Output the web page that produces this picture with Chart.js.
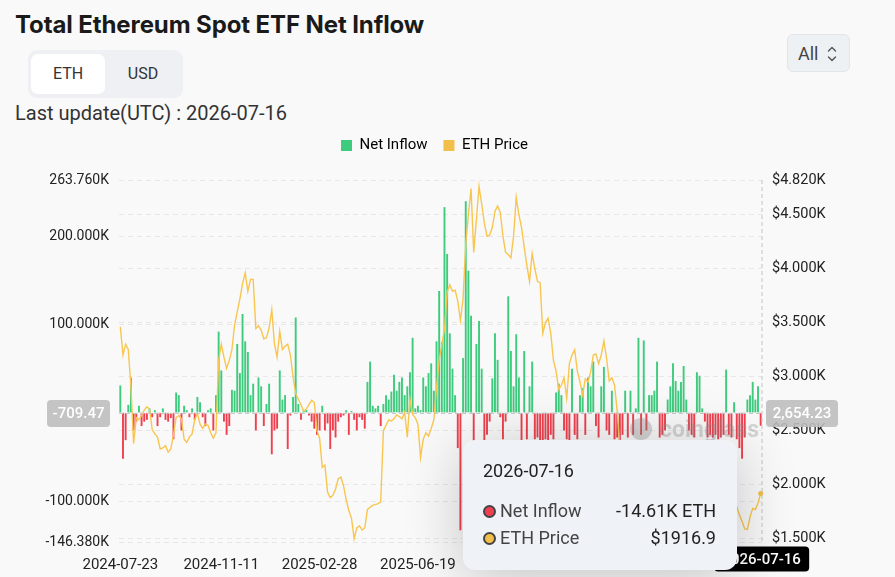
<!DOCTYPE html>
<html>
<head>
<meta charset="utf-8">
<script src="https://cdn.jsdelivr.net/npm/chart.js@4.4.1/dist/chart.umd.min.js"></script>
<style>
  body { margin: 0; background: #f9f9f9; font-family: Roboto, "Noto Sans", sans-serif; color: #222; }
  #wrap { position: relative; width: 895px; height: 577px; overflow: hidden; }
  h1 { position: absolute; left: 15px; top: 10px; margin: 0; font: 700 24px Inter, Roboto, sans-serif; letter-spacing: -0.1px; color: #1a1a1a; }
  .toggle { position: absolute; left: 28px; top: 50px; width: 155px; height: 48px; background: #eef0f3; border-radius: 9px; }
  .toggle span { position: absolute; top: 4px; height: 40px; line-height: 40px; text-align: center; font-size: 16px; color: #333; }
  .toggle .on { left: 3px; width: 74px; background: #fff; border-radius: 7px; }
  .toggle .off { left: 77px; width: 76px; }
  .upd { position: absolute; left: 15px; top: 101px; font-size: 20px; color: #333; }
  .sel { position: absolute; left: 787px; top: 34px; width: 63px; height: 38px; background: #eef1f4; border: 1px solid #e2e5e9; border-radius: 6px; box-sizing: border-box; font-size: 18px; color: #444; }
  .sel b { position: absolute; left: 10px; top: 8px; font-weight: 400; }
  .sel svg { position: absolute; left: 39px; top: 10px; }
  canvas { position: absolute; left: 0; top: 122px; }
  .wm { position: absolute; left: 630px; top: 416px; font: 700 23px Roboto, sans-serif; color: rgba(140,140,140,0.35); }
  .wm em { display: inline-block; width: 22px; height: 22px; border-radius: 50%; background: rgba(140,140,140,0.35); vertical-align: -3px; margin-right: 8px; }
  #tip { position: absolute; left: 463px; top: 440px; width: 274px; height: 130px; background: #eff2f6; border-radius: 12px; box-shadow: 0 8px 60px rgba(0,0,0,0.22); }
  #tip .d { position: absolute; left: 20px; top: 20px; font-size: 18px; color: #222; }
  #tip .r { position: absolute; left: 20px; right: 21px; font-size: 18px; height: 24px; line-height: 24px; }
  #tip .r .dot { position: absolute; left: 0; top: 6px; width: 9px; height: 9px; border-radius: 50%; border: 2px solid #444; }
  #tip .r .l { position: absolute; left: 17px; color: #444; }
  #tip .r .v { position: absolute; right: 0; color: #222; }
</style>
</head>
<body>
<div id="wrap">
  <h1>Total Ethereum Spot ETF Net Inflow</h1>
  <div class="toggle"><span class="on">ETH</span><span class="off">USD</span></div>
  <div class="upd">Last update(UTC) : 2026-07-16</div>
  <div class="sel"><b>All</b>
    <svg width="10" height="18" viewBox="0 0 10 18"><path d="M1.5 6 L5 2.5 L8.5 6 M1.5 12 L5 15.5 L8.5 12" fill="none" stroke="#555" stroke-width="1.4" stroke-linecap="round" stroke-linejoin="round"/></svg>
  </div>
  <canvas id="chart" width="895" height="455"></canvas>
  <div class="wm"><em></em>coinglass</div>
  <div id="tip">
    <div class="d" id="tipDate"></div>
    <div class="r" style="top:59px"><span class="dot" style="background:#f0404f"></span><span class="l">Net Inflow</span><span class="v" id="tipFlow"></span></div>
    <div class="r" style="top:86px"><span class="dot" style="background:#f2bf4a"></span><span class="l">ETH Price</span><span class="v" id="tipPrice"></span></div>
  </div>
</div>
<script>
const startDate = "2024-07-23";
const stepDays = 3;
// x labels and the bar each one sits under
const tickLabels = ["2024-07-23", "2024-11-11", "2025-02-28", "2025-06-19", "2025-10-08", "2026-01-27", "2026-05-18"];
const tickIndex = [0, 38, 75, 112, 150, 188, 225];
const leftTicks = [-146.38, -100, 0, 100, 200, 263.76];
const rightTicks = [1469, 1500, 2000, 2500, 3000, 3500, 4000, 4500, 4820];

// net inflow, thousand ETH
const netInflowK = [
  31, -52, -31, 9, 40, -20, -10, 8, -15, -10, -8, 5, -5, 3, -15, -5, 5, -8, -10, -6,
  -30, 23, 20, -20, 8, 3, -5, 5, -8, 18, 12, -5, -15, 3, 5, -20, 20, 92, 48, -10,
  -25, -15, 26, 25, 78, 45, 112, 81, 69, 20, 33, -20, 40, 30, -15, 10, 33, -47, -20, -18,
  48, 15, 20, -41, -3, 18, 108, 10, -8, 3, 3, -3, -10, -18, -25, -20, 8, -20, -12, -41,
  -20, -28, -10, -5, -3, 3, -25, 2, -8, -20, -5, -8, -18, 35, 58, 8, 5, 8, -15, 10,
  20, 15, 24, 43, 25, 35, 40, 20, 30, 46, 85, 5, 8, 3, 40, 30, 45, 56, 25, 81,
  138, 80, 233, 180, 90, 50, 20, -40, -133.07, 62, 239.78, 161, 110, -45, 78, 104, 50, -35, -25, -10,
  39, 90, 60, -5, -30, -10, 132, 70, 30, 89, 40, -40, 70, -30, 30, 58, -30, -28, -35, -40,
  -30, -45, -25, -30, 23, 33, 20, -20, -30, -35, 50, -25, -30, 20, 28, -25, 40, 30, 58, -15,
  -28, 30, 52, -20, -25, 25, -30, -28, -146.38, -25, 25, -28, 25, -25, 5, 85, -25, 82, -20, 20,
  20, 25, 58, -28, -25, -20, 15, 30, 56, 36, 25, 35, 53, 15, -20, -25, -28, 46, 42, 5,
  -10, -28, -25, -28, -25, -30, -28, -25, 49, -25, -28, 12, -30, -40, -52, -28, 15, 20, 35, 15,
  30, -14.61
];

// ETH price, USD
const ethPrice = [
  3460, 3200, 3300, 3250, 2900, 2380, 2620, 2600, 2640, 2690, 2720, 2700, 2510, 2470, 2440, 2330, 2340, 2360, 2300, 2330,
  2460, 2620, 2640, 2610, 2420, 2390, 2440, 2470, 2600, 2660, 2560, 2520, 2560, 2550, 2480, 2430, 2480, 3150, 3300, 3180,
  3075, 3150, 3250, 3480, 3600, 3720, 3860, 3960, 3790, 3900, 3900, 3445, 3470, 3430, 3350, 3360, 3450, 3620, 3300, 3180,
  3420, 3250, 3280, 3300, 3200, 3000, 2840, 2790, 2740, 2680, 2700, 2740, 2780, 2760, 2500, 2430, 2160, 2180, 1930, 1880,
  1900, 1960, 2056, 2070, 1990, 1860, 1760, 1690, 1500, 1600, 1620, 1580, 1600, 1770, 1790, 1810, 1815, 1825, 1840, 2500,
  2550, 2600, 2590, 2610, 2645, 2630, 2610, 2670, 2440, 2790, 2650, 2620, 2560, 2250, 2420, 2480, 2450, 2520, 2600, 2900,
  3150, 3300, 3440, 3780, 3850, 3790, 3800, 3700, 3520, 3720, 4230, 4500, 4740, 4150, 4450, 4760, 4600, 4420, 4300, 4310,
  4380, 4530, 4580, 4520, 4300, 4150, 4130, 4100, 4300, 4660, 4500, 4380, 4200, 4030, 3880, 4140, 4000, 3880, 3870, 3400,
  3500, 3540, 3400, 3150, 3050, 2880, 2920, 2990, 2800, 3120, 3200, 3250, 3050, 2950, 2830, 2980, 2950, 3040, 3200, 3210,
  3120, 3200, 3330, 3170, 2960, 2990, 2920, 2680, 2350, 2250, 2300, 2200, 2150, 2250, 2200, 2100, 2000, 2050, 2150, 2100,
  2000, 1950, 2050, 2100, 2000, 1900, 1950, 2000, 1900, 1850, 1950, 2050, 2000, 1900, 1850, 1800, 1900, 1950, 2000, 1950,
  1850, 1800, 1750, 1850, 1900, 1850, 1800, 1820, 1800, 1850, 1820, 1780, 1794, 1720, 1660, 1590, 1585, 1700, 1780, 1770,
  1830, 1916.9
];

const dates = [];
const d0 = new Date(startDate + "T00:00:00Z");
for (let i = 0; i < netInflowK.length; i++) {
  const d = new Date(d0.getTime() + i * stepDays * 86400000);
  dates.push(d.toISOString().slice(0, 10));
}
const last = dates.length - 1;

const barColors = netInflowK.map(v => v >= 0 ? "#3ecb7d" : "#f0404f");

document.getElementById("tipDate").textContent = dates[last];
document.getElementById("tipFlow").textContent = netInflowK[last].toFixed(2) + "K ETH";
document.getElementById("tipPrice").textContent = "$" + ethPrice[last];

const legendSpace = {
  id: "legendSpace",
  beforeInit(chart) {
    const fit = chart.legend.fit;
    chart.legend.fit = function () {
      fit.bind(chart.legend)();
      this.height += 17;
    };
  }
};

// crosshair at the last point, like the hovered page
const crosshair = {
  id: "crosshair",
  afterDraw(chart) {
    const { ctx, chartArea, scales } = chart;
    const x = scales.x.getPixelForValue(last);
    const y = scales.y.getPixelForValue(-0.70947);
    ctx.save();
    ctx.strokeStyle = "#c4c4c4";
    ctx.lineWidth = 1;
    ctx.setLineDash([4, 3]);
    ctx.beginPath();
    ctx.moveTo(chartArea.right, chartArea.top);
    ctx.lineTo(chartArea.right, chartArea.bottom);
    ctx.moveTo(chartArea.left, y);
    ctx.lineTo(chartArea.right, y);
    ctx.stroke();
    ctx.setLineDash([]);

    function tag(text, cx, cy, w, h, bg) {
      ctx.fillStyle = bg;
      ctx.beginPath();
      ctx.roundRect(cx - w / 2, cy - h / 2, w, h, 4);
      ctx.fill();
      ctx.fillStyle = "#fff";
      ctx.textAlign = "center";
      ctx.textBaseline = "middle";
      ctx.fillText(text, cx, cy + 1);
    }
    ctx.font = "500 15px Roboto";
    tag("-709.47", 78.5, y, 63, 27, "rgba(190,190,190,0.9)");
    tag("2,654.23", 802, y, 72, 27, "rgba(190,190,190,0.9)");
    tag(dates[last], x + 1, chartArea.bottom + 17, 95, 25, "#000");
    ctx.restore();
  }
};

const gridStyle = { color: "#e7e7e7", drawTicks: false };

new Chart(document.getElementById("chart"), {
  data: {
    labels: dates,
    datasets: [
      {
        type: "bar",
        label: "Net Inflow",
        data: netInflowK,
        yAxisID: "y",
        backgroundColor: barColors,
        barPercentage: 0.72,
        categoryPercentage: 1,
        order: 2
      },
      {
        type: "line",
        label: "ETH Price",
        data: ethPrice,
        yAxisID: "y1",
        borderColor: "#f8c650",
        backgroundColor: "#f2bf4a",
        borderWidth: 1.4,
        pointRadius: ctx => ctx.dataIndex === last ? 2.5 : 0,
        pointBackgroundColor: "#f2bf4a",
        pointBorderWidth: 0,
        tension: 0,
        order: 1
      }
    ]
  },
  options: {
    responsive: false,
    animation: false,
    layout: { padding: { right: 26 } },
    plugins: {
      legend: {
        labels: {
          boxWidth: 11,
          boxHeight: 11,
          padding: 16,
          color: "#555",
          font: { size: 15, family: "Roboto" },
          generateLabels: chart => chart.data.datasets.map((ds, i) => ({
            text: ds.label,
            fillStyle: i === 0 ? "#3ecb7d" : "#f2bf4a",
            strokeStyle: "transparent",
            lineWidth: 0,
            datasetIndex: i
          }))
        }
      },
      tooltip: { enabled: false }
    },
    scales: {
      x: {
        grid: { display: false },
        border: { display: false },
        ticks: {
          autoSkip: false,
          maxRotation: 0,
          padding: 6,
          color: "#222",
          font: { size: 15, family: "Roboto" },
          callback: (v, i) => {
            const k = tickIndex.indexOf(i);
            return k >= 0 ? tickLabels[k] : "";
          }
        },
        afterFit: s => { s.height = 35; }
      },
      y: {
        position: "left",
        min: -146.38,
        max: 263.76,
        grid: gridStyle,
        border: { display: false, dash: [5, 4] },
        afterBuildTicks: s => { s.ticks = leftTicks.map(v => ({ value: v })); },
        ticks: {
          padding: 10,
          color: "#222",
          font: { size: 14, family: "Roboto" },
          callback: v => v === 0 ? "" : v.toFixed(3) + "K"
        },
        afterFit: s => { s.width = 119; }
      },
      y1: {
        position: "right",
        min: 1469,
        max: 4820,
        grid: gridStyle,
        border: { display: false, dash: [5, 4] },
        afterBuildTicks: s => { s.ticks = rightTicks.map(v => ({ value: v })); },
        ticks: {
          padding: 10,
          color: "#222",
          font: { size: 14.5, family: "Roboto" },
          callback: v => v === 1469 ? "" : "$" + (v / 1000).toFixed(3) + "K"
        },
        afterFit: s => { s.width = 107; }
      }
    }
  },
  plugins: [legendSpace, crosshair]
});
</script>
</body>
</html>
